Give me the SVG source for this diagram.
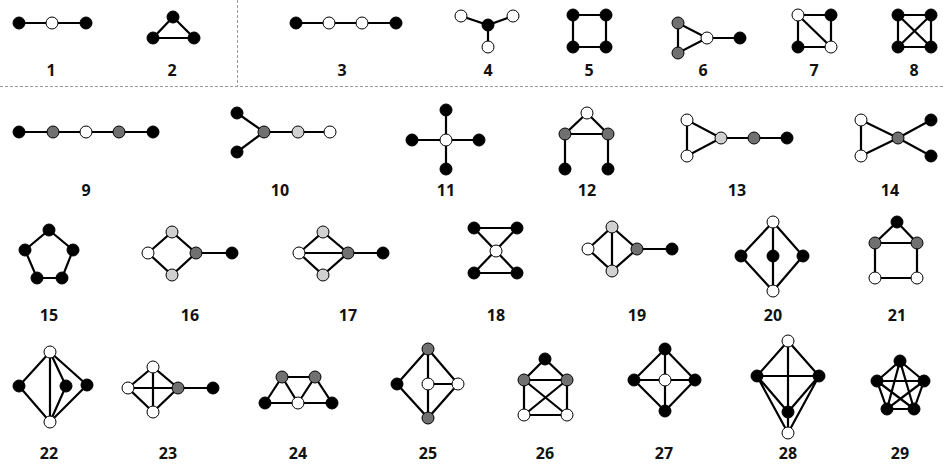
<svg xmlns="http://www.w3.org/2000/svg" width="945" height="468" viewBox="0 0 945 468">
<style>
.e{stroke:#000;stroke-width:2.2;fill:none;stroke-linecap:round}
.n{stroke:#000;stroke-width:1}
.b{fill:#000}.w{fill:#fff}.g{fill:#707070}.l{fill:#d0d0d0}
.t{font-family:"Open Sans","DejaVu Sans",sans-serif;font-weight:bold;font-size:16px;text-anchor:middle;fill:#111}
.d{stroke:#999;stroke-width:1;stroke-dasharray:3,2;fill:none}
</style>
<rect width="945" height="468" fill="#fff"/>
<g id="separators">
<line class="d" x1="0" y1="86.5" x2="945" y2="86.5"/>
<line class="d" x1="237.5" y1="0" x2="237.5" y2="86"/>
</g>
<g id="connectors">
<!-- 1 -->
<path class="e" d="M19 23H86"/>
<!-- 2 -->
<path class="e" d="M173 17L153 38H194Z"/>
<!-- 3 -->
<path class="e" d="M296 23H396"/>
<!-- 4 -->
<path class="e" d="M461 16L488 25L513 16M488 25V47"/>
<!-- 5 -->
<path class="e" d="M573 15H606V47H573Z"/>
<!-- 6 -->
<path class="e" d="M678 23V53L707 38Z M707 38H740"/>
<!-- 7 -->
<path class="e" d="M798 15H831V47H798Z M798 15L831 47"/>
<!-- 8 -->
<path class="e" d="M898 15H931V47H898Z M898 15L931 47 M931 15L898 47"/>
<!-- 9 -->
<path class="e" d="M19 132H153"/>
<!-- 10 -->
<path class="e" d="M237 113L264 132L237 152 M264 132H330"/>
<!-- 11 -->
<path class="e" d="M412 140H479 M446 110V169"/>
<!-- 12 -->
<path class="e" d="M587 113L565 134H608Z M565 134V169 M608 134V169"/>
<!-- 13 -->
<path class="e" d="M687 120V156L721 138Z M721 138H787"/>
<!-- 14 -->
<path class="e" d="M861 120V156L898 138Z M931 120L898 138L931 156"/>
<!-- 15 -->
<path class="e" d="M49 230L73 250L62 278H37L25 250Z"/>
<!-- 16 -->
<path class="e" d="M148 253L172 232L196 253L172 275Z M196 253H232"/>
<!-- 17 -->
<path class="e" d="M299 253L323 232L348 253L323 275Z M299 253H383"/>
<!-- 18 -->
<path class="e" d="M474 228H517L474 273H517Z"/>
<!-- 19 -->
<path class="e" d="M588 249L612 227L637 249L612 271Z M612 227V271 M637 249H672"/>
<!-- 20 -->
<path class="e" d="M773 222L741 256L773 291L803 256Z M773 222V291"/>
<!-- 21 -->
<path class="e" d="M897 222L875 243H917Z M875 243V278H917V243"/>
<!-- 22 -->
<path class="e" d="M50 352L19 386L50 422L87 385Z M50 352V422 M50 352L66 386L50 422"/>
<!-- 23 -->
<path class="e" d="M153 367L128 388L153 412L178 388Z M128 388H213 M153 367V412"/>
<!-- 24 -->
<path class="e" d="M265 403H332L315 377H282L265 403 M282 377L298 403L315 377"/>
<!-- 25 -->
<path class="e" d="M428 349L397 384L428 418L458 384Z M428 349V418 M428 384H458"/>
<!-- 26 -->
<path class="e" d="M545 359L524 380H567Z M524 380V415H567V380 M524 380L567 415 M567 380L524 415"/>
<!-- 27 -->
<path class="e" d="M665 349L634 380L665 411L695 380Z M634 380H695 M665 349V411"/>
<!-- 28 -->
<path class="e" d="M788 341L757 376L788 412L819 376Z M757 376H819 M788 341V433 M757 376L788 433L819 376"/>
<!-- 29 -->
<path class="e" d="M900 361L924 381L914 409L887 409L877 381Z M900 361L887 409L924 381L877 381L914 409Z"/>
</g>
<g id="g1"><circle class="n b" cx="19" cy="23" r="6"/><circle class="n w" cx="52" cy="23" r="6"/><circle class="n b" cx="86" cy="23" r="6"/><text class="t" x="51" y="76">1</text></g>
<g id="g2"><circle class="n b" cx="173" cy="17" r="6"/><circle class="n b" cx="153" cy="38" r="6"/><circle class="n b" cx="194" cy="38" r="6"/><text class="t" x="172" y="76">2</text></g>
<g id="g3"><circle class="n b" cx="296" cy="23" r="6"/><circle class="n w" cx="329" cy="23" r="6"/><circle class="n w" cx="362" cy="23" r="6"/><circle class="n b" cx="396" cy="23" r="6"/><text class="t" x="342" y="76">3</text></g>
<g id="g4"><circle class="n w" cx="461" cy="16" r="6"/><circle class="n w" cx="513" cy="16" r="6"/><circle class="n b" cx="488" cy="25" r="6"/><circle class="n w" cx="488" cy="47" r="6"/><text class="t" x="488" y="76">4</text></g>
<g id="g5"><circle class="n b" cx="573" cy="15" r="6"/><circle class="n b" cx="606" cy="15" r="6"/><circle class="n b" cx="573" cy="47" r="6"/><circle class="n b" cx="606" cy="47" r="6"/><text class="t" x="589" y="76">5</text></g>
<g id="g6"><circle class="n g" cx="678" cy="23" r="6"/><circle class="n g" cx="678" cy="53" r="6"/><circle class="n w" cx="707" cy="38" r="6"/><circle class="n b" cx="740" cy="38" r="6"/><text class="t" x="703" y="76">6</text></g>
<g id="g7"><circle class="n w" cx="798" cy="15" r="6"/><circle class="n b" cx="831" cy="15" r="6"/><circle class="n b" cx="798" cy="47" r="6"/><circle class="n w" cx="831" cy="47" r="6"/><text class="t" x="814" y="76">7</text></g>
<g id="g8"><circle class="n b" cx="898" cy="15" r="6"/><circle class="n b" cx="931" cy="15" r="6"/><circle class="n b" cx="898" cy="47" r="6"/><circle class="n b" cx="931" cy="47" r="6"/><text class="t" x="914" y="76">8</text></g>
<g id="g9"><circle class="n b" cx="19" cy="132" r="6"/><circle class="n g" cx="53" cy="132" r="6"/><circle class="n w" cx="86" cy="132" r="6"/><circle class="n g" cx="119" cy="132" r="6"/><circle class="n b" cx="153" cy="132" r="6"/><text class="t" x="86" y="196">9</text></g>
<g id="g10"><circle class="n b" cx="237" cy="113" r="6"/><circle class="n b" cx="237" cy="152" r="6"/><circle class="n g" cx="264" cy="132" r="6"/><circle class="n l" cx="298" cy="132" r="6"/><circle class="n w" cx="330" cy="132" r="6"/><text class="t" x="280" y="196">10</text></g>
<g id="g11"><circle class="n b" cx="446" cy="110" r="6"/><circle class="n b" cx="412" cy="140" r="6"/><circle class="n w" cx="446" cy="140" r="6"/><circle class="n b" cx="479" cy="140" r="6"/><circle class="n b" cx="446" cy="169" r="6"/><text class="t" x="446" y="196">11</text></g>
<g id="g12"><circle class="n w" cx="587" cy="113" r="6"/><circle class="n g" cx="565" cy="134" r="6"/><circle class="n g" cx="608" cy="134" r="6"/><circle class="n b" cx="565" cy="169" r="6"/><circle class="n b" cx="608" cy="169" r="6"/><text class="t" x="587" y="196">12</text></g>
<g id="g13"><circle class="n w" cx="687" cy="120" r="6"/><circle class="n w" cx="687" cy="156" r="6"/><circle class="n l" cx="721" cy="138" r="6"/><circle class="n g" cx="754" cy="138" r="6"/><circle class="n b" cx="787" cy="138" r="6"/><text class="t" x="737" y="196">13</text></g>
<g id="g14"><circle class="n w" cx="861" cy="120" r="6"/><circle class="n w" cx="861" cy="156" r="6"/><circle class="n g" cx="898" cy="138" r="6"/><circle class="n b" cx="931" cy="120" r="6"/><circle class="n b" cx="931" cy="156" r="6"/><text class="t" x="890" y="196">14</text></g>
<g id="g15"><circle class="n b" cx="49" cy="230" r="6"/><circle class="n b" cx="25" cy="250" r="6"/><circle class="n b" cx="73" cy="250" r="6"/><circle class="n b" cx="37" cy="278" r="6"/><circle class="n b" cx="62" cy="278" r="6"/><text class="t" x="49" y="321">15</text></g>
<g id="g16"><circle class="n w" cx="148" cy="253" r="6"/><circle class="n l" cx="172" cy="232" r="6"/><circle class="n l" cx="172" cy="275" r="6"/><circle class="n g" cx="196" cy="253" r="6"/><circle class="n b" cx="232" cy="253" r="6"/><text class="t" x="190" y="321">16</text></g>
<g id="g17"><circle class="n w" cx="299" cy="253" r="6"/><circle class="n l" cx="323" cy="232" r="6"/><circle class="n l" cx="323" cy="275" r="6"/><circle class="n g" cx="348" cy="253" r="6"/><circle class="n b" cx="383" cy="253" r="6"/><text class="t" x="348" y="321">17</text></g>
<g id="g18"><circle class="n b" cx="474" cy="228" r="6"/><circle class="n b" cx="517" cy="228" r="6"/><circle class="n w" cx="496" cy="251" r="6"/><circle class="n b" cx="474" cy="273" r="6"/><circle class="n b" cx="517" cy="273" r="6"/><text class="t" x="496" y="321">18</text></g>
<g id="g19"><circle class="n w" cx="588" cy="249" r="6"/><circle class="n l" cx="612" cy="227" r="6"/><circle class="n l" cx="612" cy="271" r="6"/><circle class="n g" cx="637" cy="249" r="6"/><circle class="n b" cx="672" cy="249" r="6"/><text class="t" x="637" y="321">19</text></g>
<g id="g20"><circle class="n w" cx="773" cy="222" r="6"/><circle class="n b" cx="741" cy="256" r="6"/><circle class="n b" cx="773" cy="256" r="6"/><circle class="n b" cx="803" cy="256" r="6"/><circle class="n w" cx="773" cy="291" r="6"/><text class="t" x="773" y="321">20</text></g>
<g id="g21"><circle class="n b" cx="897" cy="222" r="6"/><circle class="n g" cx="875" cy="243" r="6"/><circle class="n g" cx="917" cy="243" r="6"/><circle class="n w" cx="875" cy="278" r="6"/><circle class="n w" cx="917" cy="278" r="6"/><text class="t" x="897" y="321">21</text></g>
<g id="g22"><circle class="n w" cx="50" cy="352" r="6"/><circle class="n b" cx="19" cy="386" r="6"/><circle class="n b" cx="66" cy="386" r="6"/><circle class="n b" cx="87" cy="385" r="6"/><circle class="n w" cx="50" cy="422" r="6"/><text class="t" x="49" y="459">22</text></g>
<g id="g23"><circle class="n w" cx="153" cy="367" r="6"/><circle class="n w" cx="128" cy="388" r="6"/><circle class="n g" cx="178" cy="388" r="6"/><circle class="n w" cx="153" cy="412" r="6"/><circle class="n b" cx="213" cy="388" r="6"/><text class="t" x="168" y="459">23</text></g>
<g id="g24"><circle class="n b" cx="265" cy="403" r="6"/><circle class="n g" cx="282" cy="377" r="6"/><circle class="n w" cx="298" cy="403" r="6"/><circle class="n g" cx="315" cy="377" r="6"/><circle class="n b" cx="332" cy="403" r="6"/><text class="t" x="298" y="459">24</text></g>
<g id="g25"><circle class="n g" cx="428" cy="349" r="6"/><circle class="n b" cx="397" cy="384" r="6"/><circle class="n w" cx="428" cy="384" r="6"/><circle class="n w" cx="458" cy="384" r="6"/><circle class="n g" cx="428" cy="418" r="6"/><text class="t" x="428" y="459">25</text></g>
<g id="g26"><circle class="n b" cx="545" cy="359" r="6"/><circle class="n g" cx="524" cy="380" r="6"/><circle class="n g" cx="567" cy="380" r="6"/><circle class="n w" cx="524" cy="415" r="6"/><circle class="n w" cx="567" cy="415" r="6"/><text class="t" x="545" y="459">26</text></g>
<g id="g27"><circle class="n b" cx="665" cy="349" r="6"/><circle class="n b" cx="634" cy="380" r="6"/><circle class="n w" cx="665" cy="380" r="6"/><circle class="n b" cx="695" cy="380" r="6"/><circle class="n b" cx="665" cy="411" r="6"/><text class="t" x="664" y="459">27</text></g>
<g id="g28"><circle class="n w" cx="788" cy="341" r="6"/><circle class="n b" cx="757" cy="376" r="6"/><circle class="n b" cx="819" cy="376" r="6"/><circle class="n b" cx="788" cy="412" r="6"/><circle class="n w" cx="788" cy="433" r="6"/><text class="t" x="788" y="459">28</text></g>
<g id="g29"><circle class="n b" cx="900" cy="361" r="6"/><circle class="n b" cx="877" cy="381" r="6"/><circle class="n b" cx="924" cy="381" r="6"/><circle class="n b" cx="887" cy="409" r="6"/><circle class="n b" cx="914" cy="409" r="6"/><text class="t" x="900" y="459">29</text></g>
</svg>
